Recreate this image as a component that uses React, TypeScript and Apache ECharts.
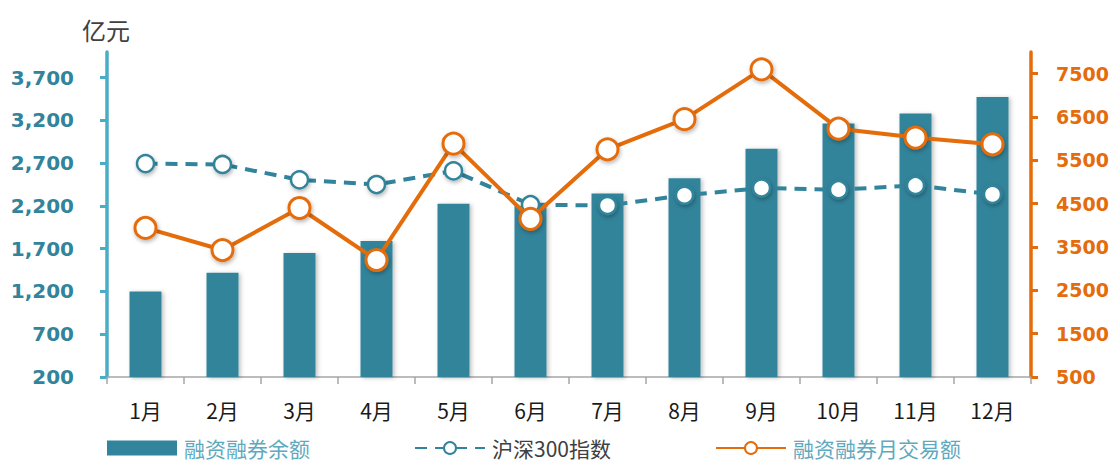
import React, { useEffect, useRef } from "react";
import * as echarts from "echarts";

const months = ["1月", "2月", "3月", "4月", "5月", "6月", "7月", "8月", "9月", "10月", "11月", "12月"];
const marginBalance = [1200, 1420, 1650, 1790, 2225, 2200, 2345, 2525, 2870, 3165, 3280, 3475];
const hs300 = [2695, 2685, 2505, 2450, 2610, 2215, 2205, 2325, 2410, 2390, 2440, 2335];
const monthlyTurnover = [3940, 3430, 4400, 3200, 5885, 4150, 5755, 6450, 7600, 6230, 6025, 5870];

const seriesNames = ["融资融券余额", "沪深300指数", "融资融券月交易额"];

const TEAL = "#31849B";
const AXIS_BLUE = "#4BACC6";
const ORANGE = "#E46C0A";

export default function App() {
  const ref = useRef<HTMLDivElement>(null);
  useEffect(() => {
    if (!ref.current) return;
    const chart = echarts.init(ref.current, null, { renderer: "svg" });
    const cjk = "'Noto Sans CJK SC', 'Noto Sans', sans-serif";
    const num = "'DejaVu Sans', Verdana, sans-serif";
    chart.setOption({
      animation: false,
      textStyle: { fontFamily: cjk },
      title: {
        text: "亿元",
        left: 77,
        top: 12,
        textStyle: { fontSize: 24, fontWeight: "normal", color: "#404040", fontFamily: cjk },
      },
      grid: { left: 107, right: 84, top: 52, bottom: 89 },
      legend: {
        left: 102,
        top: 432,
        itemWidth: 70,
        itemHeight: 15,
        itemGap: 104,
        textStyle: { fontSize: 21, lineHeight: 22, fontFamily: cjk, padding: [0, 0, 0, 2] },
        data: [
          { name: seriesNames[0], icon: "rect", textStyle: { color: "#5EA9BE" } },
          { name: seriesNames[1], textStyle: { color: "#404040" } },
          { name: seriesNames[2], textStyle: { color: "#5EA9BE" } },
        ],
      },
      xAxis: {
        type: "category",
        data: months,
        axisLine: { lineStyle: { color: "#A6A6A6", width: 1.5 } },
        axisTick: { show: true, length: 7, lineStyle: { color: "#A6A6A6", width: 1.5 } },
        axisLabel: { color: "#1a1a1a", fontSize: 21, margin: 22, fontFamily: cjk },
      },
      yAxis: [
        {
          type: "value",
          min: 200,
          max: 4000,
          interval: 500,
          splitLine: { show: false },
          axisLine: { show: true, lineStyle: { color: AXIS_BLUE, width: 3.5 } },
          axisTick: { show: true, length: 7, lineStyle: { color: AXIS_BLUE, width: 3 } },
          axisLabel: {
            showMaxLabel: false,
            color: TEAL,
            fontSize: 20,
            fontWeight: "bold",
            fontFamily: num,
            margin: 33,
            formatter: (v: number) => v.toLocaleString("en-US"),
          },
        },
        {
          type: "value",
          min: 500,
          max: 8000,
          interval: 1000,
          splitLine: { show: false },
          axisLine: { show: true, lineStyle: { color: ORANGE, width: 3.5 } },
          axisTick: { show: true, length: 7, lineStyle: { color: ORANGE, width: 3 } },
          axisLabel: {
            showMaxLabel: false,
            color: ORANGE,
            fontSize: 19,
            fontWeight: "bold",
            fontFamily: num,
            margin: 25,
            formatter: (v: number) => String(v),
          },
        },
      ],
      series: [
        {
          name: seriesNames[0],
          type: "bar",
          yAxisIndex: 0,
          data: marginBalance,
          barWidth: 32,
          itemStyle: {
            color: TEAL,
            shadowColor: "rgba(0,0,0,0.25)",
            shadowBlur: 4,
            shadowOffsetX: 2,
            shadowOffsetY: 1,
          },
          z: 1,
        },
        {
          name: seriesNames[1],
          type: "line",
          yAxisIndex: 0,
          data: hs300,
          symbol: "circle",
          symbolSize: 17,
          lineStyle: { color: TEAL, width: 4, type: [12, 8] },
          itemStyle: {
            color: "#ffffff",
            borderColor: TEAL,
            borderWidth: 2.5,
            shadowColor: "rgba(0,0,0,0.3)",
            shadowBlur: 4,
            shadowOffsetX: 1,
            shadowOffsetY: 2,
          },
          z: 2,
        },
        {
          name: seriesNames[2],
          type: "line",
          yAxisIndex: 1,
          data: monthlyTurnover,
          symbol: "circle",
          symbolSize: 21,
          lineStyle: { color: ORANGE, width: 4 },
          itemStyle: {
            color: "#ffffff",
            borderColor: ORANGE,
            borderWidth: 3,
            shadowColor: "rgba(0,0,0,0.3)",
            shadowBlur: 4,
            shadowOffsetX: 1,
            shadowOffsetY: 2,
          },
          z: 3,
        },
      ],
    });
    return () => chart.dispose();
  }, []);
  return <div ref={ref} style={{ position: "absolute", left: 0, top: 0, width: 1115, height: 466 }} />;
}
